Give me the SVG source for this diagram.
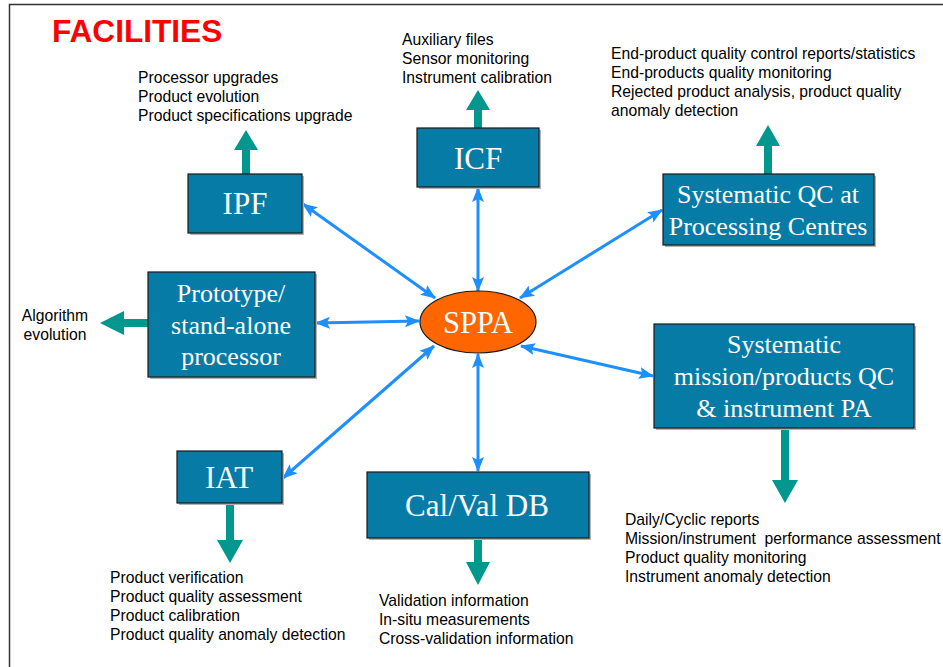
<svg xmlns="http://www.w3.org/2000/svg" width="943" height="667" viewBox="0 0 943 667">
  <style>
    .box { fill: #067ba6; stroke: #1a1a1a; stroke-width: 1.2; }
    .shadow { fill: #b3b3b3; }
    .btxt { font-family: "Liberation Serif", "Times New Roman", serif; font-size: 26px; fill: #ffffff; text-anchor: middle; }
    .big { font-size: 31px; }
    .hub { font-size: 30.5px; }
    .note { font-family: "Liberation Sans", Arial, sans-serif; font-size: 15.7px; fill: #000000; white-space: pre; }
    .link { stroke: #1e8fff; stroke-width: 3; fill: none; marker-start: url(#tip); marker-end: url(#tip); }
    .out { fill: #00978f; }
  </style>
  <defs>
    <marker id="tip" viewBox="0 0 15 12" refX="14" refY="6" markerWidth="15" markerHeight="12" markerUnits="userSpaceOnUse" orient="auto-start-reverse">
      <path d="M0,0 L15,6 L0,12 L3,6 Z" fill="#1e8fff"/>
    </marker>
  </defs>

  <rect width="943" height="667" fill="#ffffff"/>
  <!-- page frame -->
  <path d="M9.5,667 V4.5 H943" fill="none" stroke="#333333" stroke-width="1.5"/>

  <text x="52" y="42" font-family="Liberation Sans, Arial, sans-serif" font-size="31.6" font-weight="bold" fill="#ff0000">FACILITIES</text>

  <!-- connectors between SPPA and the facilities -->
  <g id="connectors">
    <line class="link" x1="303" y1="204" x2="435" y2="298"/>
    <line class="link" x1="478" y1="188" x2="478" y2="291"/>
    <line class="link" x1="662" y1="210" x2="520" y2="298"/>
    <line class="link" x1="316" y1="323" x2="419" y2="321"/>
    <line class="link" x1="521" y1="346" x2="653" y2="376"/>
    <line class="link" x1="283" y1="478" x2="434" y2="346"/>
    <line class="link" x1="478" y1="354" x2="478" y2="471"/>
  </g>

  <!-- output arrows -->
  <g id="outputs">
    <polygon class="out" points="242,174 242,150 234,150 246,130 258,150 250,150 250,174"/>
    <polygon class="out" points="474,128 474,110 466,110 478,90 490,110 482,110 482,128"/>
    <polygon class="out" points="764,174 764,146 756,146 768,125 780,146 772,146 772,174"/>
    <polygon class="out" points="148,319 124,319 124,311 100,323 124,335 124,327 148,327"/>
    <polygon class="out" points="781,428 781,480 772,480 785,503 798,480 789,480 789,428"/>
    <polygon class="out" points="226,503 226,540 217,540 230,563 243,540 234,540 234,503"/>
    <polygon class="out" points="474,538 474,562 466,562 478,585 490,562 482,562 482,538"/>
  </g>

  <g id="ipf">
    <rect class="shadow" x="190" y="176" width="114" height="59"/>
    <rect class="box" x="188" y="174" width="114" height="59"/>
    <text class="btxt big" x="245" y="214">IPF</text>
  </g>
  <g id="icf">
    <rect class="shadow" x="419" y="130" width="122" height="59"/>
    <rect class="box" x="417" y="128" width="122" height="59"/>
    <text class="btxt big" x="478" y="169">ICF</text>
  </g>
  <g id="qc-centres">
    <rect class="shadow" x="665" y="176" width="211" height="71"/>
    <rect class="box" x="663" y="174" width="211" height="71"/>
    <text class="btxt" x="768" y="203">Systematic QC at</text>
    <text class="btxt" x="768" y="235">Processing Centres</text>
  </g>
  <g id="prototype">
    <rect class="shadow" x="150" y="274" width="167" height="105"/>
    <rect class="box" x="148" y="272" width="167" height="105"/>
    <text class="btxt" x="231" y="302">Prototype/</text>
    <text class="btxt" x="231" y="334">stand-alone</text>
    <text class="btxt" x="231" y="365">processor</text>
  </g>
  <g id="mission-qc">
    <rect class="shadow" x="656" y="326" width="260" height="104"/>
    <rect class="box" x="654" y="324" width="260" height="104"/>
    <text class="btxt" x="784" y="353">Systematic</text>
    <text class="btxt" x="784" y="385">mission/products QC</text>
    <text class="btxt" x="784" y="417">&amp; instrument PA</text>
  </g>
  <g id="iat">
    <rect class="shadow" x="179" y="453" width="105" height="52"/>
    <rect class="box" x="177" y="451" width="105" height="52"/>
    <text class="btxt big" x="229" y="488">IAT</text>
  </g>
  <g id="calval">
    <rect class="shadow" x="369" y="474" width="222" height="66"/>
    <rect class="box" x="367" y="472" width="222" height="66"/>
    <text class="btxt big" x="477" y="516">Cal/Val DB</text>
  </g>
  <g id="sppa">
    <ellipse cx="478" cy="322" rx="58" ry="31" fill="#ff6600" stroke="#1a1a1a" stroke-width="1.2"/>
    <text class="btxt hub" x="478" y="333">SPPA</text>
  </g>

  <!-- notes next to the output arrows -->
  <g id="notes">
    <text class="note" x="138" y="83">Processor upgrades</text>
    <text class="note" x="138" y="102">Product evolution</text>
    <text class="note" x="138" y="121">Product specifications upgrade</text>

    <text class="note" x="402" y="45">Auxiliary files</text>
    <text class="note" x="402" y="64">Sensor monitoring</text>
    <text class="note" x="402" y="83">Instrument calibration</text>

    <text class="note" x="611" y="59">End-product quality control reports/statistics</text>
    <text class="note" x="611" y="78">End-products quality monitoring</text>
    <text class="note" x="611" y="97">Rejected product analysis, product quality</text>
    <text class="note" x="611" y="116">anomaly detection</text>

    <text class="note" x="55" y="321" text-anchor="middle">Algorithm</text>
    <text class="note" x="55" y="340" text-anchor="middle">evolution</text>

    <text class="note" x="625" y="525">Daily/Cyclic reports</text>
    <text class="note" x="625" y="544" xml:space="preserve">Mission/instrument  performance assessment</text>
    <text class="note" x="625" y="563">Product quality monitoring</text>
    <text class="note" x="625" y="582">Instrument anomaly detection</text>

    <text class="note" x="110" y="583">Product verification</text>
    <text class="note" x="110" y="602">Product quality assessment</text>
    <text class="note" x="110" y="621">Product calibration</text>
    <text class="note" x="110" y="640">Product quality anomaly detection</text>

    <text class="note" x="379" y="606">Validation information</text>
    <text class="note" x="379" y="625">In-situ measurements</text>
    <text class="note" x="379" y="644">Cross-validation information</text>
  </g>
</svg>
